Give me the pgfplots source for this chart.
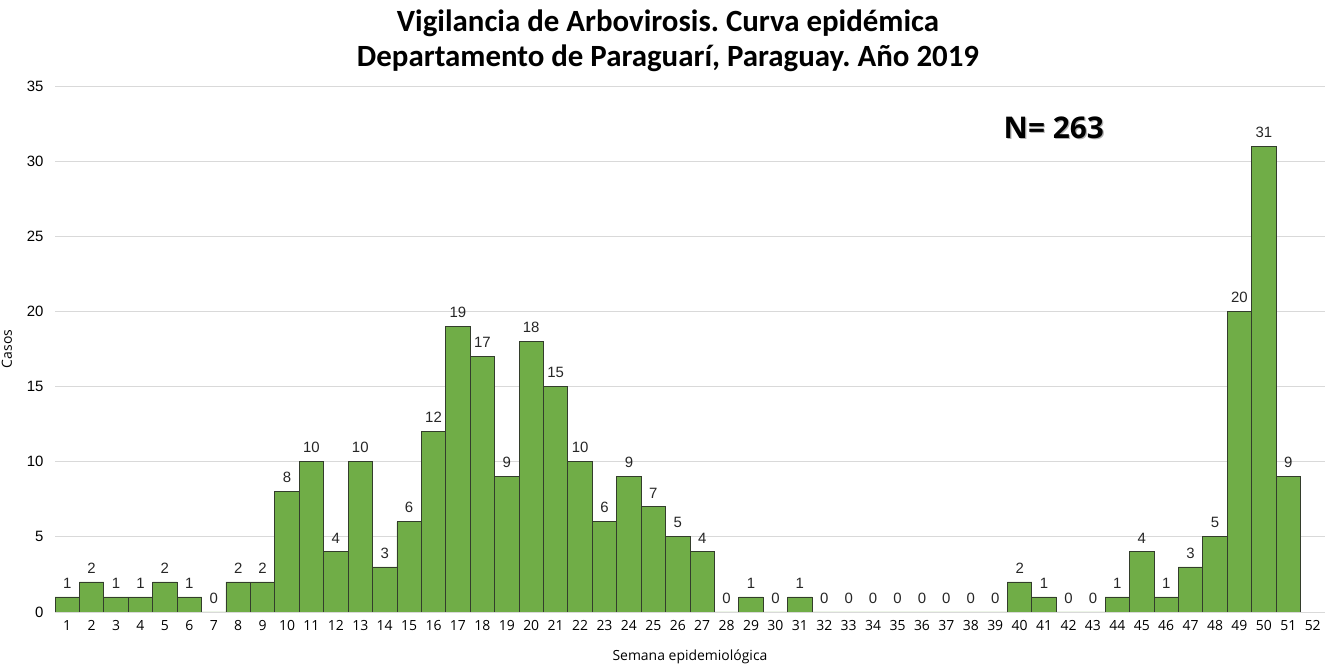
\documentclass[border=0pt]{standalone}
\usepackage{pgfplots}
\pgfplotsset{compat=1.18}
\usepackage{fontspec}
\setmainfont{Liberation Sans}
\newfontfamily\titlefont{Carlito}
\newfontfamily\labfont{Open Sans}
\definecolor{barg}{HTML}{70AD47}
\definecolor{bare}{HTML}{333D2C}
\definecolor{gridc}{HTML}{D9D9D9}
\frenchspacing
\begin{document}
\begin{tikzpicture}
\useasboundingbox (0,0) rectangle (1337bp,664bp);
\begin{axis}[
  at={(55bp,52bp)}, anchor=south west,
  scale only axis, width=1270bp, height=526bp,
  xmin=0.5, xmax=52.5, ymin=0, ymax=35,
  xtick={1,...,52},
  ytick={0,5,...,35},
  major tick length=0pt,
  axis line style={draw=none},
  axis x line*=bottom,
  axis y line*=left,
  ymajorgrids, grid style={gridc, line width=0.8pt},
  tick label style={font=\fontsize{15}{17}\selectfont},
  xticklabel style={font=\labfont\fontsize{14}{16}\selectfont, yshift=-5bp},
  yticklabel style={xshift=-8bp},
  /pgf/number format/assume math mode=true,
  ylabel={Casos}, ylabel style={font=\labfont\fontsize{14}{16}\selectfont, at={(axis description cs:-0.031,0.5)}},
  xlabel={Semana epidemiológica}, xlabel style={font=\labfont\fontsize{14}{16}\selectfont, at={(axis description cs:0.5,-0.065)}},
  clip=false,
]
\addplot[ybar, bar width=1, fill=barg, draw=bare, line width=0.8pt,
  nodes near coords,
  every node near coord/.append style={font=\fontsize{15}{17}\selectfont, black!85, yshift=5bp},
] coordinates {
(1,1) (2,2) (3,1) (4,1) (5,2) (6,1) (7,0) (8,2) (9,2) (10,8)
(11,10) (12,4) (13,10) (14,3) (15,6) (16,12) (17,19) (18,17) (19,9) (20,18)
(21,15) (22,10) (23,6) (24,9) (25,7) (26,5) (27,4) (28,0) (29,1) (30,0)
(31,1) (32,0) (33,0) (34,0) (35,0) (36,0) (37,0) (38,0) (39,0) (40,2)
(41,1) (42,0) (43,0) (44,1) (45,4) (46,1) (47,3) (48,5) (49,20) (50,31)
(51,9)
};
\draw[gridc, line width=0.8pt] (axis cs:0.5,0) -- (axis cs:52.5,0);
\node[font=\labfont\bfseries\fontsize{30}{34}\selectfont, gray!60, xshift=1.2bp, yshift=-1.2bp] at (axis cs:41.4,32.2) {N= 263};
\node[font=\labfont\bfseries\fontsize{30}{34}\selectfont] at (axis cs:41.4,32.2) {N= 263};
\end{axis}
\node[font=\titlefont\bfseries\fontsize{31}{36}\selectfont] at (668bp,641bp) {Vigilancia de Arbovirosis. Curva epidémica};
\node[font=\titlefont\bfseries\fontsize{31}{36}\selectfont] at (668bp,606bp) {Departamento de Paraguarí, Paraguay. Año 2019};
\end{tikzpicture}
\end{document}
